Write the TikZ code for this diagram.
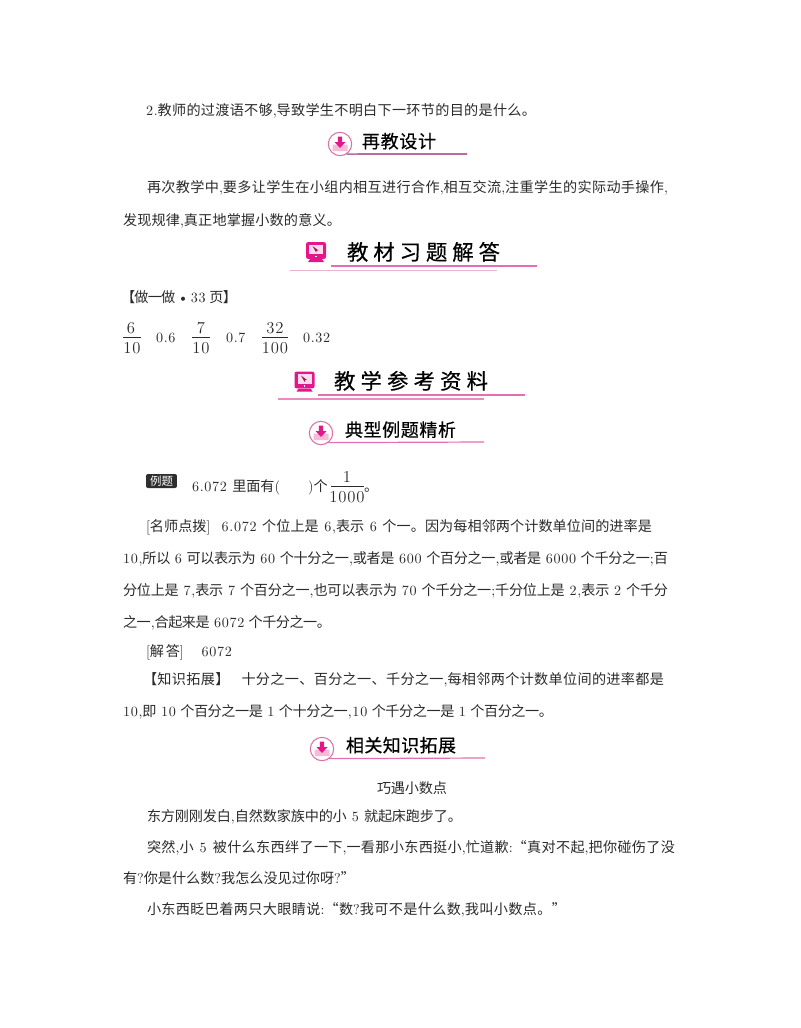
\documentclass[tikz,border=0pt]{standalone}
\usepackage{fontspec}
\setmainfont[LetterSpace=5]{Latin Modern Roman}
\newfontfamily\cjk{Noto Sans CJK SC}
\newfontfamily\cjkb[FakeBold=0.5]{Noto Sans CJK SC}
\newlength{\pxu}\setlength{\pxu}{0.75pt}
% automatic font switching between Latin Modern and CJK, with stretchable glue
\newXeTeXintercharclass\ccls
\newcount\cidx
\newcommand\setcc[2]{\cidx=#1\relax\loop\ifnum\cidx<#2\relax\XeTeXcharclass\cidx=\ccls\advance\cidx by 1\repeat}
\setcc{"2E80}{"A000}
\setcc{"FF00}{"FFF0}
\XeTeXcharclass"201C=\ccls
\XeTeXcharclass"201D=\ccls
\newcommand\cg{\hskip 0pt plus 1pt minus 0.6pt\relax}
\XeTeXinterchartoks 0 \ccls={\cjk}
\XeTeXinterchartoks 4095 \ccls={\cjk}
\XeTeXinterchartoks \ccls 0={\normalfont}
\XeTeXinterchartoks \ccls 4095={\normalfont}
\XeTeXinterchartoks \ccls \ccls={\cg}
\XeTeXinterchartokenstate=1
\definecolor{ink}{HTML}{2B2B2B}
\definecolor{mag}{HTML}{E4178A}
\definecolor{ringc}{HTML}{DB6FA8}
\definecolor{tray}{HTML}{F6BBD6}
\definecolor{rulea}{HTML}{B86BA0}
\definecolor{ruleb}{HTML}{E36FB0}
\definecolor{rulec}{HTML}{E8B4D0}
\tikzset{
  x=0.75pt,y=-0.75pt,
  txt/.style={inner sep=0pt,outer sep=0pt,anchor=base west,text=ink,font=\fontsize{10.6pt}{12pt}\selectfont},
  head/.style={inner sep=0pt,outer sep=0pt,anchor=base west,text=black,font=\fontsize{13.5pt}{15pt}\selectfont},
  bighead/.style={inner sep=0pt,outer sep=0pt,anchor=base west,text=black,font=\fontsize{16pt}{18pt}\selectfont},
  frac/.style={inner sep=0pt,outer sep=0pt,anchor=base,text=ink,font=\fontsize{12.5pt}{14pt}\selectfont},
  fracbar/.style={draw=ink,line width=0.7pt},
  ring/.style={circle,draw=ringc,line width=0.8pt,fill=white,minimum size=17.5pt,inner sep=0pt},
  badge/.style={rounded corners=1.5pt,fill=black!82,inner sep=0pt,text=white,font=\fontsize{8.6pt}{10pt}\selectfont},
}
\newcommand\tl[5]{\node[txt] (#1) at (#2,#3) {\makebox[#4\pxu][s]{#5}};}
\newcommand\hd[6][head]{\node[#1] (#2) at (#3,#4) {\let\cjk\cjkb\makebox[#5\pxu][s]{#6}};}
\newcommand\dlicon[3]{%
  \node[ring] (#1) at (#2,#3) {};
  \begin{scope}[shift={(#1.center)}]
    \fill[tray] (-7.5,0.5) -- (-3,0.5) -- (-3,-1) -- (3,-1) -- (3,0.5) -- (7.5,0.5) -- (7.5,7) -- (-7.5,7) -- cycle;
    \fill[mag] (-2.2,-7.5) -- (2.2,-7.5) -- (2.2,-2) -- (5.5,-2) -- (0,4) -- (-5.5,-2) -- (-2.2,-2) -- cycle;
  \end{scope}}
\newcommand\moicon[3]{%
  \node[inner sep=0pt,minimum width=15pt,minimum height=12.5pt,fill=mag,rounded corners=1.5pt] (#1) at (#2,#3) {};
  \begin{scope}[shift={(#1.center)}]
    \fill[white!85!mag] (-7,-6) rectangle (7,3.5);
    \fill[mag!70!black] (-3.5,-4.5) -- (2.5,0) -- (0.5,0.3) -- (0.3,2.2) -- cycle;
    \fill[white] (-0.8,5) rectangle (0.8,6.6);
    \fill[mag] (-6,8.5) -- (6,8.5) -- (8,11.5) -- (-8,11.5) -- cycle;
  \end{scope}}
\begin{document}
\begin{tikzpicture}
\useasboundingbox (0,0) rectangle (800,1028);
\fill[white] (0,0) rectangle (800,1028);
% text
\tl{a1}{146}{115}{390}{2.教师的过渡语不够,导致学生不明白下一环节的目的是什么。}
\tl{a2}{147}{192}{521}{再次教学中,要多让学生在小组内相互进行合作,相互交流,注重学生的实际动手操作,}
\tl{a3}{123}{225}{218}{发现规律,真正地掌握小数的意义。}
\tl{a4}{121}{302}{116}{【做一做\,\textbullet\,33 页】}
% first heading
\dlicon{i1}{340}{144}
\coordinate (i1e) at (467,154);
\draw[rulea,line width=1.3pt] (i1.south east) ++(-2,1.5) -- (i1e |- 0,154) ;
\hd{h1}{362}{148}{74}{再教设计}
% second heading
\moicon{m1}{316}{250.5}
\coordinate (r1a) at (331,266); \coordinate (r1b) at (537,266);
\coordinate (r2a) at (290,270.5); \coordinate (r2b) at (497,270.5);
\draw[ruleb,line width=0.8pt] (r1a) -- (r1b);
\draw[rulec,line width=1.1pt] (r2a) -- (r2b);
\hd[bighead]{h2}{347}{260}{153}{教\hfil 材\hfil 习\hfil 题\hfil 解\hfil 答}
% fractions
\node[frac] (f1n) at (131,333) {6};
\node[frac] (f1d) at (132,353) {10};
\coordinate (f1a) at (123,337); \coordinate (f1b) at (141,337);
\draw[fracbar] (f1a) -- (f1b);
\tl{v1}{156}{342}{22}{0.6}
\node[frac] (f2n) at (201,333) {7};
\node[frac] (f2d) at (201,353) {10};
\coordinate (f2a) at (192,337); \coordinate (f2b) at (210,337);
\draw[fracbar] (f2a) -- (f2b);
\tl{v2}{226}{342}{22}{0.7}
\node[frac] (f3n) at (275,333) {32};
\node[frac] (f3d) at (275,353) {100};
\coordinate (f3a) at (262,337); \coordinate (f3b) at (288,337);
\draw[fracbar] (f3a) -- (f3b);
\tl{v3}{303}{342}{28}{0.32}
% third heading
\moicon{m2}{304.5}{380}
\coordinate (r3a) at (318,395); \coordinate (r3b) at (525,395);
\coordinate (r4a) at (278,399); \coordinate (r4b) at (484,399);
\draw[ruleb,line width=0.8pt] (r3a) -- (r3b);
\draw[ruleb!80,line width=0.8pt] (r4a) -- (r4b);
\hd[bighead]{h3}{334}{389}{154}{教\hfil 学\hfil 参\hfil 考\hfil 资\hfil 料}
% fourth heading
\dlicon{i2}{321}{433}
\coordinate (i2e) at (484,442);
\draw[ruleb,line width=0.9pt] (i2.south east) ++(-2,1) -- (i2e);
\hd{h4}{345}{436.5}{111}{典型例题精析}
% example
\node[badge,minimum width=23.2pt,minimum height=10.5pt] (b1) at (161.5,481) {例题};
\tl{e1}{192}{491}{88}{6.072 里面有(}
\tl{e2}{308}{491}{21}{)个}
\node[frac] (f4n) at (347,482) {1};
\node[frac] (f4d) at (347,502) {1000};
\coordinate (f4a) at (331,486); \coordinate (f4b) at (364,486);
\draw[fracbar] (f4a) -- (f4b);
\tl{e3}{364}{491}{12}{。}
% body
\tl{b2}{146}{531}{506}{[名师点拨] \ 6.072 个位上是 6,表示 6 个一。因为每相邻两个计数单位间的进率是}
\tl{b3}{123}{563}{545}{10,所以 6 可以表示为 60 个十分之一,或者是 600 个百分之一,或者是 6000 个千分之一;百}
\tl{b4}{123}{595}{545}{分位上是 7,表示 7 个百分之一,也可以表示为 70 个千分之一;千分位上是 2,表示 2 个千分}
\tl{b5}{123}{627}{208}{之一,合起来是 6072 个千分之一。}
\tl{b6}{146}{656}{86}{[解答] \ 6072}
\tl{b7}{143}{684}{521}{【知识拓展】\ \ 十分之一、百分之一、千分之一,每相邻两个计数单位间的进率都是}
\tl{b8}{123}{716}{430}{10,即 10 个百分之一是 1 个十分之一,10 个千分之一是 1 个百分之一。}
% fifth heading
\dlicon{i3}{322}{749}
\coordinate (i3e) at (485,758);
\draw[ruleb,line width=0.9pt] (i3.south east) ++(-2,1) -- (i3e);
\hd{h5}{346}{752}{110}{相关知识拓展}
% story
\tl{s1}{377}{793}{70}{巧遇小数点}
\tl{s2}{147}{821}{315}{东方刚刚发白,自然数家族中的小 5 就起床跑步了。}
\tl{s3}{147}{852}{528}{突然,小 5 被什么东西绊了一下,一看那小东西挺小,忙道歉:“真对不起,把你碰伤了没}
\tl{s4}{123}{883}{232}{有?你是什么数?我怎么没见过你呀?”}
\tl{s5}{147}{914}{419}{小东西眨巴着两只大眼睛说:“数?我可不是什么数,我叫小数点。”}
\end{tikzpicture}
\end{document}
